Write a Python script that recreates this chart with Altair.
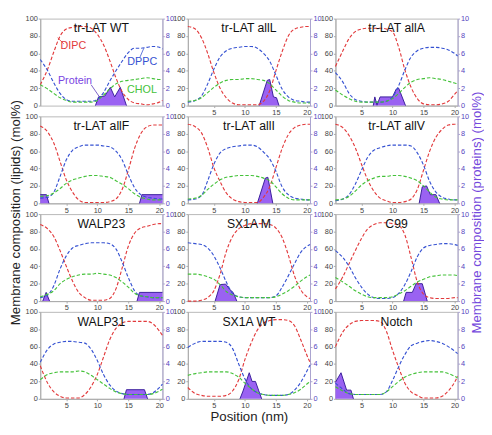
import altair as alt
import pandas as pd

# positions (nm) at which the lipid profiles are sampled
X = [0.8, 2, 3, 4, 5, 6, 7, 8, 9, 10, 11, 12, 13, 14, 15, 16, 17, 18, 19, 20, 20.5]

NAMES = ["tr-LAT WT", "tr-LAT allL", "tr-LAT allA",
         "tr-LAT allF", "tr-LAT allI", "tr-LAT allV",
         "WALP23", "SX1A M", "C99",
         "WALP31", "SX1A WT", "Notch"]

DIPC = [
    [24, 42, 62, 80, 88, 90, 91, 91, 89, 82, 70, 52, 32, 16, 7, 3, 2, 1, 2, 4, 6],
    [91, 88, 78, 60, 38, 20, 9, 3, 1, 1, 1, 1, 5, 17, 40, 62, 80, 88, 90, 91, 91],
    [45, 63, 77, 85, 88, 89, 89, 89, 88, 85, 67, 41, 21, 8, 2, 1, 1, 2, 5, 13, 17],
    [89, 82, 69, 48, 27, 13, 4, 1, 1, 1, 1, 2, 5, 16, 38, 63, 80, 88, 90, 90, 90],
    [91, 88, 81, 64, 41, 25, 12, 5, 2, 1, 1, 1, 7, 19, 41, 63, 79, 87, 90, 91, 91],
    [91, 87, 78, 64, 45, 27, 14, 6, 3, 1, 1, 2, 5, 16, 38, 60, 76, 85, 90, 91, 91],
    [88, 83, 74, 58, 40, 23, 10, 4, 1, 1, 1, 3, 14, 38, 63, 78, 84, 86, 88, 89, 89],
    [0, 0, 1, 4, 12, 31, 57, 74, 83, 87, 89, 89, 89, 88, 84, 73, 53, 29, 13, 5, 3],
    [14, 28, 43, 58, 72, 83, 88, 90, 90, 89, 87, 76, 50, 22, 8, 4, 3, 3, 3, 4, 4],
    [38, 18, 8, 3, 1, 1, 1, 5, 14, 28, 48, 68, 81, 87, 89, 89, 89, 89, 86, 78, 73],
    [13, 6, 4, 3, 3, 3, 4, 9, 22, 45, 64, 79, 87, 90, 91, 91, 90, 84, 68, 50, 42],
    [60, 77, 85, 89, 90, 90, 90, 89, 78, 56, 36, 18, 8, 4, 1, 1, 1, 3, 9, 19, 26],
]

DPPC = [
    [53, 40, 26, 14, 7, 5, 5, 5, 5, 7, 15, 28, 40, 51, 61, 66, 66, 67, 68, 67, 65],
    [4, 6, 11, 25, 42, 56, 63, 66, 67, 68, 68, 66, 60, 51, 35, 19, 10, 6, 5, 4, 4],
    [38, 27, 14, 7, 5, 4, 4, 4, 5, 10, 23, 41, 56, 63, 66, 67, 67, 66, 64, 60, 57],
    [6, 7, 13, 31, 50, 61, 65, 67, 67, 67, 66, 65, 60, 50, 33, 18, 10, 7, 6, 5, 5],
    [4, 5, 9, 26, 45, 58, 63, 65, 66, 67, 67, 65, 59, 51, 37, 19, 10, 6, 5, 4, 4],
    [3, 5, 10, 22, 38, 53, 61, 64, 66, 67, 67, 67, 66, 58, 44, 25, 13, 7, 5, 4, 4],
    [4, 7, 18, 37, 52, 61, 64, 66, 67, 67, 67, 66, 60, 45, 27, 12, 6, 5, 4, 4, 4],
    [67, 66, 65, 61, 52, 38, 22, 9, 5, 4, 4, 4, 4, 4, 6, 16, 29, 43, 56, 63, 65],
    [58, 50, 40, 27, 16, 8, 4, 3, 3, 4, 9, 19, 34, 51, 61, 64, 65, 66, 66, 65, 64],
    [42, 57, 63, 65, 66, 66, 65, 64, 57, 44, 28, 16, 9, 6, 5, 5, 5, 5, 7, 13, 17],
    [59, 64, 66, 66, 66, 66, 65, 58, 40, 23, 12, 7, 5, 4, 4, 4, 5, 10, 19, 32, 39],
    [18, 11, 6, 5, 5, 5, 5, 5, 8, 21, 37, 51, 61, 64, 66, 67, 66, 64, 60, 55, 52],
]

CHOL = [
    [24, 19, 14, 9, 6, 4, 4, 4, 4, 6, 12, 19, 25, 28, 29, 30, 31, 32, 31, 30, 30],
    [5, 6, 9, 15, 21, 26, 29, 30, 30, 31, 31, 30, 29, 25, 18, 11, 6, 4, 3, 3, 3],
    [18, 12, 8, 5, 4, 4, 4, 4, 5, 8, 14, 21, 27, 30, 31, 32, 31, 30, 28, 26, 25],
    [8, 9, 12, 17, 23, 27, 29, 31, 32, 32, 31, 30, 26, 22, 17, 11, 7, 5, 4, 4, 4],
    [5, 6, 9, 16, 22, 27, 30, 31, 32, 32, 32, 31, 29, 26, 19, 11, 6, 4, 4, 4, 4],
    [4, 5, 8, 14, 21, 26, 29, 31, 31, 32, 32, 31, 29, 26, 20, 13, 7, 5, 4, 4, 4],
    [5, 8, 12, 20, 25, 28, 30, 31, 31, 32, 31, 30, 27, 22, 16, 9, 6, 5, 4, 4, 4],
    [31, 31, 30, 28, 25, 19, 11, 7, 5, 4, 4, 4, 4, 4, 5, 8, 12, 17, 23, 28, 30],
    [27, 22, 17, 12, 8, 5, 4, 4, 4, 5, 8, 12, 17, 22, 25, 28, 29, 30, 30, 30, 29],
    [22, 28, 30, 31, 31, 31, 32, 31, 27, 22, 17, 12, 8, 6, 5, 5, 5, 5, 6, 9, 11],
    [27, 29, 30, 31, 31, 31, 31, 29, 25, 18, 12, 7, 5, 4, 4, 4, 5, 7, 11, 17, 20],
    [14, 9, 6, 5, 5, 5, 5, 5, 8, 14, 20, 25, 28, 30, 31, 31, 31, 31, 29, 26, 24],
]

# protein profiles: list of segments of (position, mol%) points
PROTEIN = [
    [[(9.7, 0), (10.2, 1.0), (11.2, 1.1), (12.1, 2.1), (12.8, 1.0), (13.7, 2.1), (14.7, 0)]],
    [[(12.3, 0), (13.6, 2.9), (14.0, 3.0), (14.6, 1.0), (15.1, 0.9), (15.5, 0)]],
    [[(6.9, 0), (7.15, 1.0), (7.5, 0.05), (8.0, 1.0), (10.0, 1.0), (10.6, 1.9), (11.0, 2.0), (12.1, 0)]],
    [[(0.8, 1.0), (1.8, 1.0), (2.2, 0)], [(16.8, 0), (17.2, 1.0), (20.5, 1.0)]],
    [[(12.0, 0), (13.3, 2.9), (13.7, 3.0), (14.5, 0)]],
    [[(14.3, 0), (14.8, 1.9), (15.5, 2.0), (16.1, 1.0), (17.0, 1.0), (17.6, 0)]],
    [[(1.2, 0), (1.75, 1.0), (2.3, 0)], [(16.4, 0), (16.8, 1.0), (20.5, 1.0)]],
    [[(5.2, 0), (6.0, 1.9), (6.9, 1.95), (7.6, 1.3), (8.1, 1.0), (8.7, 0)]],
    [[(11.8, 0), (12.2, 1.0), (13.2, 1.0), (13.8, 2.0), (14.8, 2.0), (15.6, 0)]],
    [[(14.3, 0), (14.7, 1.05), (17.6, 1.05), (18.1, 0)]],
    [[(9.2, 0), (9.7, 0.9), (10.7, 3.0), (11.15, 2.0), (11.7, 2.0), (12.2, 1.0), (12.7, 0)]],
    [[(0.8, 1.9), (1.7, 3.0), (2.6, 1.0), (3.3, 1.0), (3.7, 0)]],
]

# annotations of the first panel
LABEL_TEXT = ["DIPC", "DPPC", "Protein", "CHOL"]
LABEL_X = [6.15, 17.25, 6.4, 17.2]
LABEL_Y = [69, 50, 28, 18]
LEADER_X = [3.6, 16.9, 9.0]
LEADER_Y = [78, 56, 24]
LEADER_X2 = [4.6, 17.5, 10.4]
LEADER_Y2 = [71, 66, 9.5]

LIPIDS = ["DIPC", "DPPC", "CHOL"]
RED, BLUE, GREEN = "#e23a3c", "#3652d2", "#45c23a"
FILL, EDGE = "#9a62f2", "#3a1f9c"
PURPLE_LBL = "#5545c0"
PURPLE_TITLE = "#7448dc"
FONT = "Liberation Sans"
W, H = 125, 89
COL_GAP, ROW_GAP = 26, 11

xscale = alt.Scale(domain=[0.8, 20.5], nice=False, zero=False)


def x_axis(title):
    kw = dict(values=[5, 10, 15, 20], grid=False, tickSize=2, labelPadding=1,
              labelFontSize=7.5, labelFont=FONT, labelColor="#444",
              domainColor="#aaa", tickColor="#aaa")
    if title:
        return alt.Axis(title=title, titleFontSize=13.5, titleFont=FONT,
                        titleFontWeight="normal", titleColor="#222",
                        titlePadding=1, **kw)
    return alt.Axis(title=None, **kw)


left_axis = alt.Axis(orient="left", values=[0, 20, 40, 60, 80, 100], title=None,
                     grid=False, tickSize=2, labelPadding=1, labelFontSize=7.5,
                     labelFont=FONT, labelColor="#444", domainColor="#aaa",
                     tickColor="#aaa")
right_axis = alt.Axis(orient="right", values=[0, 2, 4, 6, 8, 10], title=None,
                      grid=False, tickSize=2, labelPadding=1, labelFontSize=7.5,
                      labelFont=FONT, labelColor=PURPLE_LBL, domainColor="#aaa3d0",
                      tickColor="#aaa3d0")


def panel(i, xtitle=None):
    rows = []
    for lip, arr in zip(LIPIDS, (DIPC[i], DPPC[i], CHOL[i])):
        for x, v in zip(X, arr):
            rows.append({"x": x, "v": v, "lipid": lip})
    lip_df = pd.DataFrame(rows)
    prow = []
    for s, seg in enumerate(PROTEIN[i]):
        for x, p in seg:
            prow.append({"x": x, "p": p, "seg": s})
    prot_df = pd.DataFrame(prow)

    xa = x_axis(xtitle)
    area = alt.Chart(prot_df).mark_area(
        color=FILL, opacity=1, line={"color": EDGE, "strokeWidth": 1}
    ).encode(
        x=alt.X("x:Q", scale=xscale, axis=xa),
        y=alt.Y("p:Q", scale=alt.Scale(domain=[0, 10], nice=False), axis=right_axis,
                stack=None),
        detail="seg:N",
    )
    lines = alt.Chart(lip_df).mark_line(
        strokeDash=[3.5, 2], strokeWidth=1.15, interpolate="monotone"
    ).encode(
        x=alt.X("x:Q", scale=xscale, axis=xa),
        y=alt.Y("v:Q", scale=alt.Scale(domain=[0, 100], nice=False), axis=left_axis),
        color=alt.Color("lipid:N", scale=alt.Scale(domain=LIPIDS, range=[RED, BLUE, GREEN]),
                        legend=None),
    )
    title = alt.Chart(pd.DataFrame({"t": [NAMES[i]]})).mark_text(
        fontSize=12.5, font=FONT, color="#111", baseline="middle"
    ).encode(text="t:N", x=alt.value(W / 2), y=alt.value(10))
    layers = [area, lines, title]

    if i == 0:
        lab_df = pd.DataFrame({"x": LABEL_X, "y": LABEL_Y, "t": LABEL_TEXT,
                               "c": [RED, BLUE, "#7a44e2", GREEN]})
        labels = alt.Chart(lab_df).mark_text(fontSize=11, font=FONT, baseline="middle").encode(
            x=alt.X("x:Q", scale=xscale, axis=None),
            y=alt.Y("y:Q", scale=alt.Scale(domain=[0, 100], nice=False), axis=None),
            text="t:N",
            color=alt.Color("c:N", scale=None),
        )
        led_df = pd.DataFrame({"x": LEADER_X, "y": LEADER_Y, "x2": LEADER_X2,
                               "y2": LEADER_Y2, "c": [RED, BLUE, "#5a3ab8"]})
        leaders = alt.Chart(led_df).mark_rule(strokeWidth=0.8).encode(
            x=alt.X("x:Q", scale=xscale, axis=None),
            x2="x2:Q",
            y=alt.Y("y:Q", scale=alt.Scale(domain=[0, 100], nice=False), axis=None),
            y2="y2:Q",
            color=alt.Color("c:N", scale=None),
        )
        layers += [labels, leaders]

    return alt.layer(*layers).resolve_scale(y="independent").properties(width=W, height=H)


panels = [panel(i, "Position (nm)" if i == 10 else None) for i in range(12)]
grid = alt.concat(*panels, columns=3, bounds="flush",
                  spacing={"row": ROW_GAP, "column": COL_GAP})

GH = 4 * H + 3 * ROW_GAP
CY = GH / 2 + 4
left_title = alt.Chart(pd.DataFrame({"t": ["Membrane composition (lipids) (mol%)"]})).mark_text(
    angle=270, fontSize=13.5, font=FONT, color="#222", baseline="middle"
).encode(text="t:N", x=alt.value(6), y=alt.value(CY)).properties(
    width=12, height=GH, view=alt.ViewBackground(stroke="transparent"))
right_title = alt.Chart(pd.DataFrame({"t": ["Membrane composition (proteins) (mol%)"]})).mark_text(
    angle=270, fontSize=13.5, font=FONT, color=PURPLE_TITLE, baseline="middle"
).encode(text="t:N", x=alt.value(6), y=alt.value(CY)).properties(
    width=12, height=GH, view=alt.ViewBackground(stroke="transparent"))

chart = alt.hconcat(left_title, grid, right_title, spacing=0).properties(
    padding={"left": 0, "top": 1, "right": 0, "bottom": 0}
).configure_view(stroke="#b8b8b8", strokeWidth=1)

chart.save("out.html", embed_options={"renderer": "svg", "actions": False})
